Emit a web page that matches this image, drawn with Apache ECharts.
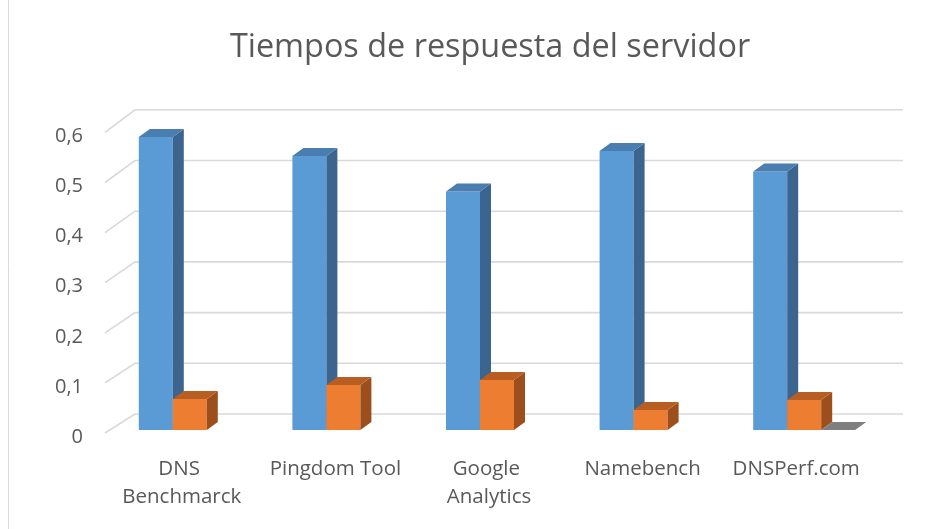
<!DOCTYPE html>
<html>
<head>
<meta charset="utf-8">
<script src="https://cdn.jsdelivr.net/npm/echarts@6/dist/echarts.min.js"></script>
<style>html,body{margin:0;padding:0;background:#fff}#c{width:946px;height:529px}</style>
</head>
<body>
<div id="c"></div>
<script>
const categories = ["DNS Benchmarck", "Pingdom Tool", "Google Analytics", "Namebench", "DNSPerf.com"];
const serie1 = [0.585, 0.547, 0.476, 0.557, 0.516];
const serie2 = [0.062, 0.09, 0.10, 0.04, 0.06];
const serie3 = [null, null, null, null, 0];
const yTicks = [0, 0.1, 0.2, 0.3, 0.4, 0.5, 0.6];
const titleText = "Tiempos de respuesta del servidor";

const FONT = "Open Sans";
const DEPTH_X = 11, DEPTH_Y = -8;   // bar depth
const FRONT_DX = -8, FRONT_DY = 3;   // front plane offset from bar plane
const BACK_DX = 22, BACK_DY = -16;   // back wall offset from bar plane

function barRenderer(slot, colors) {
  return function (params, api) {
    const v = api.value(1);
    if (v == null || isNaN(v)) return;
    const i = api.value(0);
    const base = api.coord([i, 0]);
    const top = api.coord([i, v]);
    const catW = api.size([1, 0])[0];
    const bw = catW * 0.2214;
    const l = base[0] + (slot - 1.5) * bw;
    const r = l + bw;
    const yb = base[1], yt = top[1];
    const children = [];
    if (yb - yt > 0.5) {
      children.push({type: 'rect', shape: {x: l, y: yt, width: bw, height: yb - yt},
        style: {fill: colors.front}});
      children.push({type: 'polygon', shape: {points: [[r, yt], [r + DEPTH_X, yt + DEPTH_Y], [r + DEPTH_X, yb + DEPTH_Y], [r, yb]]},
        style: {fill: colors.side}});
    }
    children.push({type: 'polygon', shape: {points: [[l, yt], [r, yt], [r + DEPTH_X, yt + DEPTH_Y], [l + DEPTH_X, yt + DEPTH_Y]]},
      style: {fill: colors.top}});
    return {type: 'group', children: children};
  };
}

function gridRenderer(params, api) {
  const cs = params.coordSys;
  const v = api.value(1);
  const p = api.coord([0, v]);
  const y = p[1];
  const y0 = api.coord([0, 0])[1];
  const h = y0 - y;
  const x0 = cs.x, x1 = cs.x + cs.width;
  const by = y + BACK_DY - h * 0.012;
  return {
    type: 'polyline',
    shape: {points: [[x0 + FRONT_DX, y + FRONT_DY], [x0 + BACK_DX, by], [x1 + BACK_DX, by]]},
    style: {stroke: '#d9d9d9', lineWidth: 1.6, fill: null}
  };
}

const chart = echarts.init(document.getElementById('c'), null, {renderer: 'canvas'});
chart.setOption({
  animation: false,
  backgroundColor: '#ffffff',
  title: {
    text: titleText, left: 485, top: 27, textAlign: 'center',
    textStyle: {fontFamily: FONT, fontSize: 32.4, fontWeight: 'normal', color: '#595959'}
  },
  graphic: [{type: 'line', shape: {x1: 8.5, y1: 0, x2: 8.5, y2: 529}, style: {stroke: '#d9d9d9', lineWidth: 1}}],
  grid: {left: 113, right: 65, top: 129.4, bottom: 99, containLabel: false},
  xAxis: {
    type: 'category', data: categories,
    axisLine: {show: false}, axisTick: {show: false}, splitLine: {show: false},
    axisLabel: {
      interval: 0, margin: 25, fontFamily: FONT, fontSize: 20.5, color: '#595959',
      lineHeight: 28, width: 145, overflow: 'break', padding: [0, 16, 0, 0]
    }
  },
  yAxis: {
    type: 'value', min: 0, max: 0.6, interval: 0.1,
    axisLine: {show: false}, axisTick: {show: false}, splitLine: {show: false},
    axisLabel: {
      margin: 30, fontFamily: FONT, fontSize: 20, color: '#595959',
      verticalAlign: 'top', lineHeight: 14,
      formatter: function (v) { return String(Math.round(v * 10) / 10).replace('.', ','); }
    }
  },
  series: [
    {type: 'custom', z: 1, renderItem: gridRenderer, data: yTicks.map(function (t) { return [0, t]; }), silent: true},
    {type: 'custom', z: 2, name: 'Serie1', renderItem: barRenderer(0, {front: '#5b9bd5', side: '#3b658f', top: '#4a7db0'}),
      data: serie1.map(function (v, i) { return [i, v]; })},
    {type: 'custom', z: 3, name: 'Serie2', renderItem: barRenderer(1, {front: '#ed7d31', side: '#9c4f1c', top: '#b95e22'}),
      data: serie2.map(function (v, i) { return [i, v]; })},
    {type: 'custom', z: 4, name: 'Serie3', renderItem: barRenderer(2, {front: '#a5a5a5', side: '#6b6b6b', top: '#7f7f7f'}),
      data: serie3.map(function (v, i) { return [i, v]; })}
  ]
});
</script>
</body>
</html>
